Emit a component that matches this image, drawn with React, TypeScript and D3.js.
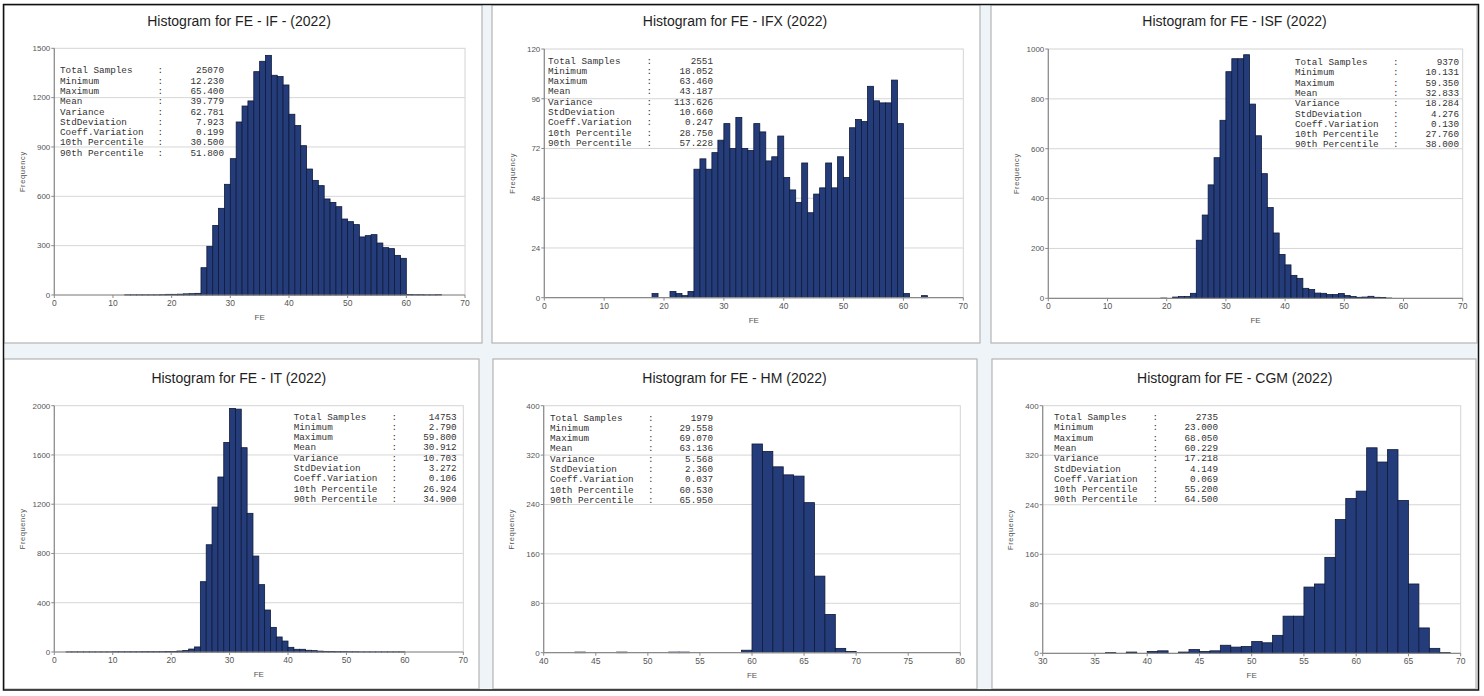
import React from 'react';
import * as d3 from 'd3';

// bin counts (1 unit wide bins), first bin starts at *Start
const ifStart = 12;
const ifCounts = [1, 1, 1, 1, 1, 1, 2, 4, 4, 5, 7, 8, 10, 166, 296, 423, 527, 673, 829, 1052, 1149, 1180, 1358, 1421, 1457, 1336, 1328, 1277, 1099, 1030, 908, 766, 697, 665, 584, 563, 537, 462, 446, 428, 353, 361, 367, 316, 288, 282, 241, 223, 3, 2, 2, 1, 1, 2];

const ifxStart = 18;
const ifxCounts = [2, 0, 0, 3, 2, 1, 3, 62, 67, 62, 70, 76, 84, 72, 87, 72, 71, 84, 80, 66, 68, 78, 58, 52, 46, 65, 41, 50, 53, 65, 53, 68, 58, 82, 86, 85, 102, 95, 94, 94, 105, 84, 2, 0, 0, 1];

const isfStart = 19;
const isfCounts = [1, 0, 5, 7, 7, 20, 233, 334, 455, 564, 714, 909, 961, 961, 977, 779, 652, 500, 364, 262, 176, 134, 92, 80, 40, 35, 21, 20, 15, 15, 19, 11, 7, 4, 5, 8, 4, 3, 1];

const itStart = 2;
const itCounts = [1, 1, 1, 1, 1, 1, 1, 1, 2, 2, 2, 2, 2, 3, 3, 3, 3, 4, 4, 8, 12, 24, 41, 571, 871, 1177, 1421, 1702, 1978, 1972, 1659, 1126, 779, 547, 341, 200, 122, 89, 38, 22, 22, 14, 11, 7, 5, 4, 3, 3, 2, 2, 1, 1, 1, 1, 1, 1, 1, 1];

const hmStart = 43;
const hmCounts = [1, 0, 0, 0, 1, 0, 0, 0, 0, 1, 1, 0, 0, 0, 0, 0, 4, 338, 326, 301, 288, 286, 243, 124, 62, 7, 2];

const cgmStart = 36;
const cgmCounts = [1, 0, 2, 0, 3, 4, 0, 2, 6, 3, 4, 13, 10, 11, 19, 17, 29, 60, 60, 107, 112, 155, 216, 250, 262, 332, 309, 329, 247, 112, 41, 8, 1];

const statLabels = ['Total Samples', 'Minimum', 'Maximum', 'Mean', 'Variance', 'StdDeviation', 'Coeff.Variation', '10th Percentile', '90th Percentile'];
const ifStats = ['25070', '12.230', '65.400', '39.779', '62.781', '7.923', '0.199', '30.500', '51.800'];
const ifxStats = ['2551', '18.052', '63.460', '43.187', '113.626', '10.660', '0.247', '28.750', '57.228'];
const isfStats = ['9370', '10.131', '59.350', '32.833', '18.284', '4.276', '0.130', '27.760', '38.000'];
const itStats = ['14753', '2.790', '59.800', '30.912', '10.703', '3.272', '0.106', '26.924', '34.900'];
const hmStats = ['1979', '29.558', '69.070', '63.136', '5.568', '2.360', '0.037', '60.530', '65.950'];
const cgmStats = ['2735', '23.000', '68.050', '60.229', '17.218', '4.149', '0.069', '55.200', '64.500'];

const titles = ['Histogram for FE - IF - (2022)', 'Histogram for FE - IFX (2022)', 'Histogram for FE - ISF (2022)', 'Histogram for FE - IT (2022)', 'Histogram for FE - HM (2022)', 'Histogram for FE - CGM (2022)'];

const xDomains: [number, number][] = [[0, 70], [0, 70], [0, 70], [0, 70], [40, 80], [30, 70]];
const xStep = [10, 10, 10, 10, 5, 5];
const yMaxes = [1500, 120, 1000, 2000, 400, 400];
const yStep = [300, 24, 200, 400, 80, 80];

const FONT = '"Liberation Sans", Arial, sans-serif';
const MONO = '"Liberation Mono", "Courier New", monospace';
const BAR_FILL = '#253c7b';
const BAR_STROKE = '#0f1a38';

interface Frame { x: number; y: number; w: number; h: number }
interface PanelProps {
  frame: Frame;
  plot: { x0: number; x1: number; y0: number; y1: number };
  titleX: number;
  titleY: number;
  title: string;
  start: number;
  counts: number[];
  xDomain: [number, number];
  xStep: number;
  yMax: number;
  yStep: number;
  stats: string[];
  statPos: { x: number; colon: number; right: number; y: number };
}

const Histogram: React.FC<PanelProps> = (p) => {
  const x = d3.scaleLinear().domain(p.xDomain).range([p.plot.x0, p.plot.x1]);
  const y = d3.scaleLinear().domain([0, p.yMax]).range([p.plot.y1, p.plot.y0]);
  const xTicks = d3.range(p.xDomain[0], p.xDomain[1] + 0.001, p.xStep);
  const yTicks = d3.range(0, p.yMax + 0.001, p.yStep);
  const bins = p.counts.map((c, i) => ({ lo: p.start + i, hi: p.start + i + 1, c }));
  const rowH = 10.3;

  return (
    <g>
      <rect x={p.frame.x} y={p.frame.y} width={p.frame.w} height={p.frame.h} fill="#fff" stroke="#b4b4b4" strokeWidth={1.2} />
      <text x={p.titleX} y={p.titleY} textAnchor="middle" fontFamily={FONT} fontSize={14} fill="#1e1e1e">{p.title}</text>

      {/* plot frame + grid */}
      <rect x={p.plot.x0} y={p.plot.y0} width={p.plot.x1 - p.plot.x0} height={p.plot.y1 - p.plot.y0} fill="#fff" stroke="#d4d4d4" strokeWidth={1} />
      {yTicks.filter(t => t > 0 && t < p.yMax).map(t => (
        <line key={'g' + t} x1={p.plot.x0} x2={p.plot.x1} y1={y(t)} y2={y(t)} stroke="#d6d6d6" strokeWidth={1} />
      ))}

      {/* stats box */}
      {statLabels.map((lab, i) => (
        <g key={lab} fontFamily={MONO} fontSize={9.3} fill="#333">
          <text x={p.statPos.x} y={p.statPos.y + i * rowH}>{lab}</text>
          <text x={p.statPos.colon} y={p.statPos.y + i * rowH}>:</text>
          <text x={p.statPos.right} y={p.statPos.y + i * rowH} textAnchor="end">{p.stats[i]}</text>
        </g>
      ))}

      {/* bars */}
      {bins.filter(b => b.c > 0).map(b => (
        <rect key={b.lo} x={x(b.lo)} y={y(b.c)} width={x(b.hi) - x(b.lo)} height={y(0) - y(b.c)}
          fill={BAR_FILL} stroke={BAR_STROKE} strokeWidth={0.8} />
      ))}

      {/* axes */}
      <line x1={p.plot.x0} x2={p.plot.x0} y1={p.plot.y0} y2={p.plot.y1} stroke="#8a8a8a" strokeWidth={1.2} />
      <line x1={p.plot.x0} x2={p.plot.x1} y1={p.plot.y1} y2={p.plot.y1} stroke="#8a8a8a" strokeWidth={1.2} />
      {yTicks.map(t => (
        <g key={'y' + t}>
          <line x1={p.plot.x0 - 3} x2={p.plot.x0} y1={y(t)} y2={y(t)} stroke="#8a8a8a" />
          <text x={p.plot.x0 - 4} y={y(t)} dy="0.35em" textAnchor="end" fontFamily={FONT} fontSize={8} fill="#555">{t}</text>
        </g>
      ))}
      {xTicks.map(t => (
        <g key={'x' + t}>
          <line x1={x(t)} x2={x(t)} y1={p.plot.y1} y2={p.plot.y1 + 3} stroke="#8a8a8a" />
          <text x={x(t)} y={p.plot.y1 + 11} textAnchor="middle" fontFamily={FONT} fontSize={8.5} fill="#555">{t}</text>
        </g>
      ))}
      <text x={(p.plot.x0 + p.plot.x1) / 2} y={p.plot.y1 + 25} textAnchor="middle" fontFamily={FONT} fontSize={8} fill="#555">FE</text>
      <text transform={`translate(${p.plot.x0 - 32},${(p.plot.y0 + p.plot.y1) / 2}) rotate(-90)`} dy="0.35em" textAnchor="middle"
        fontFamily={FONT} fontSize={7.5} letterSpacing={0.6} fill="#555">Frequency</text>
    </g>
  );
};

const panels: PanelProps[] = [
  {
    frame: { x: 4, y: 5, w: 478, h: 338 }, plot: { x0: 54.3, x1: 465, y0: 48.3, y1: 295 },
    titleX: 239, titleY: 25.5, title: titles[0], start: ifStart, counts: ifCounts,
    xDomain: xDomains[0], xStep: xStep[0], yMax: yMaxes[0], yStep: yStep[0], stats: ifStats,
    statPos: { x: 60, colon: 157.5, right: 224, y: 73.3 },
  },
  {
    frame: { x: 492, y: 5, w: 488, h: 338 }, plot: { x0: 544.3, x1: 963.3, y0: 49, y1: 297.7 },
    titleX: 735, titleY: 26, title: titles[1], start: ifxStart, counts: ifxCounts,
    xDomain: xDomains[1], xStep: xStep[1], yMax: yMaxes[1], yStep: yStep[1], stats: ifxStats,
    statPos: { x: 548, colon: 646.5, right: 713, y: 63.5 },
  },
  {
    frame: { x: 991, y: 5, w: 486, h: 338 }, plot: { x0: 1048.3, x1: 1462.7, y0: 49, y1: 298.3 },
    titleX: 1234.5, titleY: 26, title: titles[2], start: isfStart, counts: isfCounts,
    xDomain: xDomains[2], xStep: xStep[2], yMax: yMaxes[2], yStep: yStep[2], stats: isfStats,
    statPos: { x: 1295, colon: 1393, right: 1459, y: 65 },
  },
  {
    frame: { x: 4, y: 359, w: 475, h: 330 }, plot: { x0: 54.3, x1: 463.3, y0: 405.7, y1: 652 },
    titleX: 238.8, titleY: 382.5, title: titles[3], start: itStart, counts: itCounts,
    xDomain: xDomains[3], xStep: xStep[3], yMax: yMaxes[3], yStep: yStep[3], stats: itStats,
    statPos: { x: 293.7, colon: 391.5, right: 456.7, y: 419.5 },
  },
  {
    frame: { x: 493, y: 359, w: 484, h: 330 }, plot: { x0: 543.7, x1: 960.3, y0: 405.7, y1: 652.7 },
    titleX: 734.5, titleY: 382.5, title: titles[4], start: hmStart, counts: hmCounts,
    xDomain: xDomains[4], xStep: xStep[4], yMax: yMaxes[4], yStep: yStep[4], stats: hmStats,
    statPos: { x: 550, colon: 648, right: 713, y: 420.5 },
  },
  {
    frame: { x: 992, y: 359, w: 484, h: 330 }, plot: { x0: 1042.7, x1: 1460.7, y0: 405.7, y1: 653.3 },
    titleX: 1234.7, titleY: 382.5, title: titles[5], start: cgmStart, counts: cgmCounts,
    xDomain: xDomains[5], xStep: xStep[5], yMax: yMaxes[5], yStep: yStep[5], stats: cgmStats,
    statPos: { x: 1054, colon: 1152.5, right: 1218, y: 420 },
  },
];

export default function App() {
  return (
    <div style={{ position: 'absolute', left: 0, top: 0 }}>
      <svg width={1484} height={696} style={{ display: 'block', background: '#fff' }}>
        <rect x={3.5} y={4.5} width={1475} height={685.5} fill="#eef4f8" />
        {panels.map((p, i) => <Histogram key={i} {...p} />)}
        <rect x={3.5} y={4.5} width={1475} height={685.5} fill="none" stroke="#111" strokeWidth={1.5} />
      </svg>
    </div>
  );
}
